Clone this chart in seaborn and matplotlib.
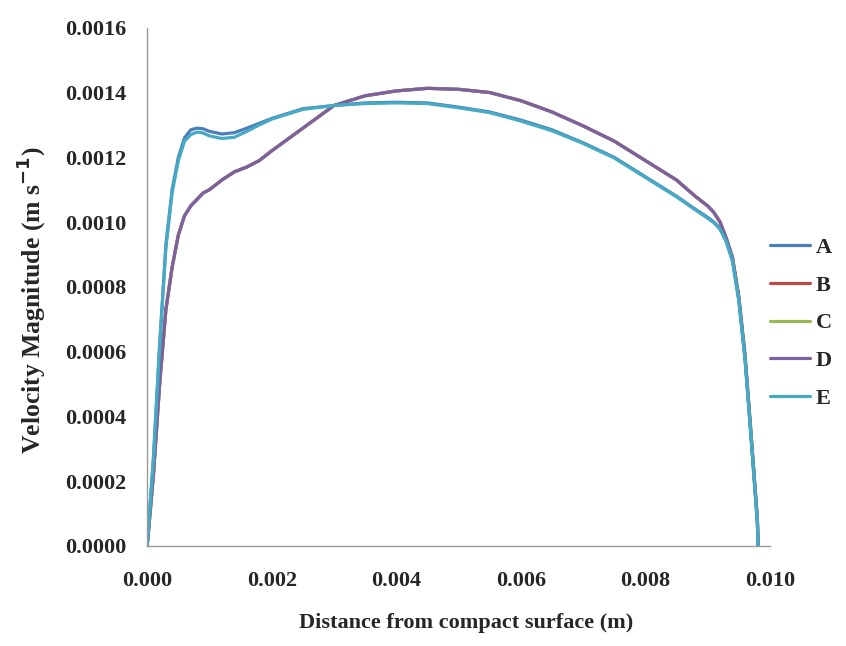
import numpy as np
import pandas as pd
import seaborn as sns
import matplotlib
matplotlib.use("Agg")
import matplotlib.pyplot as plt
from matplotlib.ticker import FormatStrFormatter
from matplotlib.lines import Line2D

# Distance from compact surface (m)
distance = [0.0, 0.0001, 0.0002, 0.0003, 0.0004, 0.0005, 0.0006, 0.0007, 0.0008,
            0.0009, 0.001, 0.0012, 0.0014, 0.0016, 0.0018, 0.002, 0.0025, 0.003,
            0.0035, 0.004, 0.0045, 0.005, 0.0055, 0.006, 0.0065, 0.007, 0.0075,
            0.008, 0.0085, 0.0088, 0.009, 0.0091, 0.0092, 0.0093, 0.0094, 0.0095,
            0.0096, 0.0097, 0.0098, 0.00981]

vel_A = [0.0, 0.00027, 0.00062, 0.00093, 0.00110, 0.00120, 0.00126, 0.001285, 0.00129,
         0.001288, 0.00128, 0.001272, 0.001276, 0.00129, 0.001305, 0.00132, 0.00135, 0.00136,
         0.001368, 0.00137, 0.001368, 0.001355, 0.00134, 0.001315, 0.001285, 0.001245, 0.0012,
         0.00114, 0.00108, 0.00104, 0.001015, 0.001, 0.00098, 0.00094, 0.00088, 0.00076,
         0.00058, 0.00033, 0.00007, 0.0]

vel_E = [0.0, 0.00027, 0.00062, 0.00092, 0.00109, 0.00119, 0.00125, 0.00127, 0.001278,
         0.001275, 0.001266, 0.001258, 0.001262, 0.00128, 0.0013, 0.001318, 0.001348, 0.00136,
         0.001366, 0.001368, 0.001366, 0.001353, 0.001338, 0.001312, 0.001282, 0.001243, 0.001198,
         0.001138, 0.001078, 0.001038, 0.001012, 0.000998, 0.000978, 0.00094, 0.00088, 0.00076,
         0.00058, 0.00033, 0.00007, 0.0]

vel_B = [0.0, 0.00022, 0.00050, 0.00073, 0.00086, 0.00096, 0.00102, 0.00105, 0.00107,
         0.00109, 0.0011, 0.00113, 0.001155, 0.00117, 0.00119, 0.00122, 0.00129, 0.00136,
         0.00139, 0.001405, 0.001413, 0.00141, 0.0014, 0.001375, 0.00134, 0.001297, 0.00125,
         0.00119, 0.00113, 0.00108, 0.00105, 0.00103, 0.001, 0.00095, 0.00089, 0.00077,
         0.00059, 0.00034, 0.00008, 0.0]

vel_C = [0.0, 0.00022, 0.00050, 0.00073, 0.00086, 0.00096, 0.00102, 0.00105, 0.00107,
         0.00109, 0.0011, 0.00113, 0.001155, 0.00117, 0.00119, 0.00122, 0.00129, 0.00136,
         0.00139, 0.001405, 0.001413, 0.00141, 0.0014, 0.001375, 0.00134, 0.001297, 0.00125,
         0.00119, 0.00113, 0.00108, 0.00105, 0.00103, 0.001, 0.00095, 0.00089, 0.00077,
         0.00059, 0.00034, 0.00008, 0.0]

vel_D = [0.0, 0.00022, 0.00050, 0.00073, 0.00086, 0.00096, 0.00102, 0.00105, 0.00107,
         0.00109, 0.0011, 0.00113, 0.001155, 0.00117, 0.00119, 0.00122, 0.00129, 0.00136,
         0.00139, 0.001405, 0.001413, 0.00141, 0.0014, 0.001375, 0.00134, 0.001297, 0.00125,
         0.00119, 0.00113, 0.00108, 0.00105, 0.00103, 0.001, 0.00095, 0.00089, 0.00077,
         0.00059, 0.00034, 0.00008, 0.0]

series_names = ["A", "B", "C", "D", "E"]
colors = ["#4A7EBB", "#BE4B48", "#98B954", "#7D60A0", "#46AAC5"]
x_ticks = [0.000, 0.002, 0.004, 0.006, 0.008, 0.010]
y_ticks = [0.0000, 0.0002, 0.0004, 0.0006, 0.0008, 0.0010, 0.0012, 0.0014, 0.0016]

series_vals = dict(zip(series_names, [vel_A, vel_B, vel_C, vel_D, vel_E]))
frames = []
for name in series_names:
    frames.append(pd.DataFrame({"x": distance, "y": series_vals[name], "series": name}))
df = pd.concat(frames, ignore_index=True)

sns.set_style("white")
plt.rcParams["font.family"] = ["Liberation Serif", "DejaVu Serif"]
plt.rcParams["font.weight"] = "bold"

fig = plt.figure(figsize=(8.46, 6.46), dpi=100)
ax = fig.add_axes([0.174, 0.155, 0.736, 0.802])

order_draw = ["B", "C", "D", "A", "E"]
pal = dict(zip(series_names, colors))
for name in order_draw:
    sub = df[df["series"] == name]
    sns.lineplot(data=sub, x="x", y="y", color=pal[name], lw=2.3, ax=ax,
                 estimator=None, sort=False, legend=False)

ax.set_xlim(0, 0.010)
ax.set_ylim(0, 0.0016)
ax.set_xticks(x_ticks)
ax.set_yticks(y_ticks)
ax.xaxis.set_major_formatter(FormatStrFormatter("%.3f"))
ax.yaxis.set_major_formatter(FormatStrFormatter("%.4f"))

for s in ["top", "right"]:
    ax.spines[s].set_visible(False)
for s in ["left", "bottom"]:
    ax.spines[s].set_color("#9a9a9a")
    ax.spines[s].set_linewidth(1.0)

ax.tick_params(axis="x", direction="inout", length=6, width=1, color="#9a9a9a",
               pad=15, labelsize=16)
ax.tick_params(axis="y", direction="out", length=4, width=1, color="#9a9a9a",
               pad=11, labelsize=16)
for lab in ax.get_xticklabels() + ax.get_yticklabels():
    lab.set_fontweight("bold")

ax.set_xlabel("Distance from compact surface (m)", fontsize=16, fontweight="bold")
ax.set_ylabel("Velocity Magnitude (m s$^{\\mathbf{-1}}$)", fontsize=18.5, fontweight="bold")
ax.xaxis.set_label_coords(0.5115, -0.129)
ax.yaxis.set_label_coords(-0.16, 0.475)

handles = [Line2D([0], [0], color=c, lw=2.3) for c in colors]
leg = ax.legend(handles, series_names, loc="center left", bbox_to_anchor=(1.0, 0.43),
                frameon=False, handlelength=1.8, handletextpad=0.25, labelspacing=0.77,
                borderaxespad=0, borderpad=0,
                prop={"family": "Liberation Serif", "weight": "bold", "size": 16})

fig.savefig("out.png", dpi=100)
